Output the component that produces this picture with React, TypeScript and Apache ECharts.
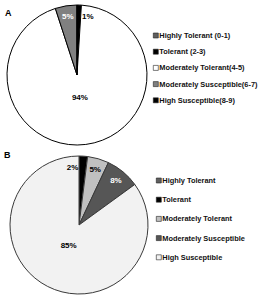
import React, { useEffect, useRef } from "react";
import * as echarts from "echarts";

// Panel A: tolerance classes by score range
const A_CATEGORIES = [
  "Highly Tolerant (0-1)",
  "Tolerant (2-3)",
  "Moderately Tolerant(4-5)",
  "Moderately Susceptible(6-7)",
  "High Susceptible(8-9)",
];
const A_VALUES = [0, 1, 94, 5, 0];
const A_COLORS = ["#5f5f5f", "#000000", "#ffffff", "#808080", "#000000"];
const A_LABEL_COLORS = ["#000", "#000", "#000", "#fff", "#000"];

// Panel B: tolerance classes
const B_CATEGORIES = [
  "Highly Tolerant",
  "Tolerant",
  "Moderately Tolerant",
  "Moderately Susceptible",
  "High Susceptible",
];
const B_VALUES = [0, 2, 5, 8, 85];
const B_COLORS = ["#5f5f5f", "#000000", "#c0c0c0", "#565656", "#f2f2f2"];
const B_LABEL_COLORS = ["#000", "#000", "#000", "#fff", "#000"];

const FONT = "Liberation Sans, Arial, sans-serif";

type PieCfg = {
  cx: number;
  cy: number;
  r: number;
  values: number[];
  tinyShift: number;
};

// Place each percentage label along its slice's bisector: big slices near the
// centre, thin slices near the rim (tiny ones pushed sideways to stay readable).
function labelPos(cfg: PieCfg, i: number) {
  const total = cfg.values.reduce((a, b) => a + b, 0);
  let cum = 0;
  for (let k = 0; k < i; k++) cum += cfg.values[k];
  const v = cfg.values[i];
  const theta = ((cum + v / 2) / total) * Math.PI * 2;
  const frac = v / total >= 0.5 ? 0.33 : 0.84;
  let x = cfg.cx + Math.sin(theta) * cfg.r * frac;
  const y = cfg.cy - Math.cos(theta) * cfg.r * frac;
  if (v / total < 0.03) x += cfg.tinyShift;
  return { x, y };
}

export default function App() {
  const ref = useRef<HTMLDivElement>(null);

  useEffect(() => {
    if (!ref.current) return;
    const chart = echarts.init(ref.current, undefined, { renderer: "svg" });

    const pieA: PieCfg = { cx: 77, cy: 75, r: 70, values: A_VALUES, tinyShift: 9 };
    const pieB: PieCfg = { cx: 79, cy: 225, r: 69, values: B_VALUES, tinyShift: -10 };

    const makeData = (
      cats: string[],
      vals: number[],
      colors: string[],
      labelColors: string[],
      border: string
    ) =>
      cats.map((name, i) => ({
        name,
        value: vals[i],
        itemStyle: { color: colors[i], borderColor: border, borderWidth: 1 },
        label: { show: vals[i] > 0, color: labelColors[i] },
      }));

    const labelStyle = {
      show: true,
      position: "inside" as const,
      formatter: "{c}%",
      fontFamily: FONT,
      fontWeight: "bold" as const,
      fontSize: 8,
    };

    const legendBase = {
      orient: "vertical" as const,
      icon: "rect",
      itemWidth: 5,
      itemHeight: 5,
      selectedMode: false,
      itemStyle: { borderWidth: 0.6, borderColor: "#222" },
      textStyle: {
        fontFamily: FONT,
        fontWeight: "bold" as const,
        fontSize: 7.4,
        color: "#111",
        padding: [0, 0, 0, -4],
      },
      padding: 0,
    };

    chart.setOption({
      animation: false,
      backgroundColor: "#fff",
      graphic: [
        {
          type: "text",
          left: 5,
          top: 8,
          style: { text: "A", font: `bold 9px ${FONT}`, fill: "#000" },
        },
        {
          type: "text",
          left: 4,
          top: 150,
          style: { text: "B", font: `bold 9px ${FONT}`, fill: "#000" },
        },
      ],
      legend: [
        {
          ...legendBase,
          left: 153,
          top: 32,
          itemGap: 9.2,
          data: A_CATEGORIES,
        },
        {
          ...legendBase,
          left: 156,
          top: 177,
          itemGap: 12.2,
          data: B_CATEGORIES,
        },
      ],
      series: [
        {
          type: "pie",
          center: [pieA.cx, pieA.cy],
          radius: pieA.r,
          startAngle: 90,
          clockwise: true,
          avoidLabelOverlap: false,
          labelLine: { show: false },
          label: labelStyle,
          labelLayout: (p: any) => {
            const { x, y } = labelPos(pieA, p.dataIndex);
            return { x, y, align: "center", verticalAlign: "middle" };
          },
          emphasis: { disabled: true },
          data: makeData(A_CATEGORIES, A_VALUES, A_COLORS, A_LABEL_COLORS, "#000"),
        },
        {
          type: "pie",
          center: [pieB.cx, pieB.cy],
          radius: pieB.r,
          startAngle: 90,
          clockwise: true,
          avoidLabelOverlap: false,
          labelLine: { show: false },
          label: labelStyle,
          labelLayout: (p: any) => {
            const { x, y } = labelPos(pieB, p.dataIndex);
            return { x, y, align: "center", verticalAlign: "middle" };
          },
          emphasis: { disabled: true },
          data: makeData(B_CATEGORIES, B_VALUES, B_COLORS, B_LABEL_COLORS, "#3a3a3a"),
        },
      ],
    });

    return () => chart.dispose();
  }, []);

  return (
    <div
      ref={ref}
      style={{ position: "fixed", left: 0, top: 0, width: 267, height: 300, background: "#fff" }}
    />
  );
}
